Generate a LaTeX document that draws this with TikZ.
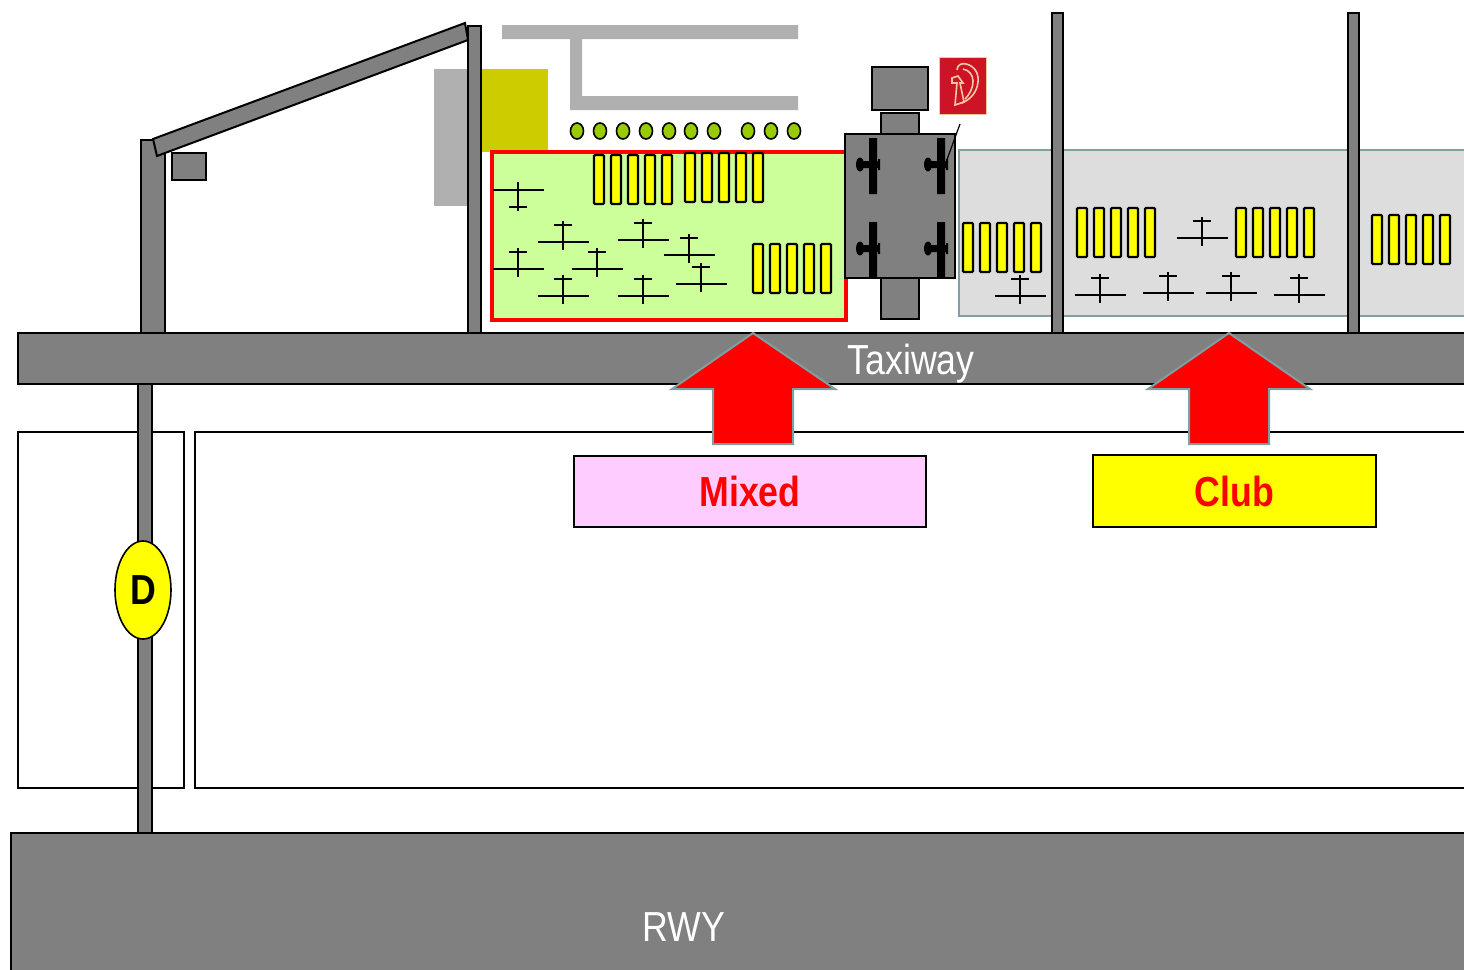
\documentclass[tikz,border=0pt]{standalone}
\usepackage{fontspec}
\setmainfont{Liberation Sans}
\usetikzlibrary{shapes.geometric}
\definecolor{apron}{HTML}{808080}
\definecolor{pale}{HTML}{B0B0B0}
\definecolor{olive}{HTML}{CCCC00}
\definecolor{grass}{HTML}{CCFF99}
\definecolor{stand}{HTML}{DDDDDD}
\definecolor{edge}{HTML}{7F9FA0}
\definecolor{lamp}{HTML}{99CC00}
\definecolor{fire}{HTML}{CC1426}
\definecolor{hose}{HTML}{F2C9A0}
\definecolor{pink}{HTML}{FFCCFF}
\definecolor{sun}{HTML}{FFFF00}
\definecolor{alarm}{HTML}{FF0000}
\tikzset{
  solidgray/.style={draw=black,fill=apron,line width=1pt},
  bigtext/.style={font=\fontsize{21}{24}\selectfont},
  labelbox/.style={draw=black,line width=.8pt,inner sep=0pt,minimum height=35.5pt,minimum width=176pt,
    bigtext,text=alarm},
  bigarrow/.style={draw=edge,fill=alarm,line width=1pt},
  lampdot/.style={draw=black,fill=lamp,line width=.8pt},
  plane/.pic={\draw[line width=1.2pt] (-25.5,0) -- (25.5,0) (-9,-17) -- (9,-17) (0,-21) -- (0,8);},
  barrow/.pic={\draw[draw=black,fill=sun,line width=1.2pt,rounded corners=.5pt]
    (0,0) rectangle +(10,49) (17,0) rectangle +(10,49) (34,0) rectangle +(10,49)
    (51,0) rectangle +(10,49) (68,0) rectangle +(10,49);},
  gateplane/.pic={\fill[black] (-4,-28) rectangle (4,28) (-12,-5) rectangle (7,2) (5,-7) rectangle (7,4);
    \fill[black] (-13,-1.5) ellipse [x radius=4,y radius=7];},
}
\begin{document}
\begin{tikzpicture}[x=.5pt,y=-.5pt]
\useasboundingbox (0,0) rectangle (1464,970);
\clip (0,0) rectangle (1464,970);

% runway and taxiway
\draw[solidgray] (11,833) rectangle (1480,985);
\draw[black,line width=.8pt] (18,432) rectangle (184,788) (195,432) rectangle (1480,788);
\draw[solidgray] (138,384) rectangle (152,833);
\draw[solidgray] (18,333) rectangle (1480,384);

% terminal on the left
\draw[solidgray] (141,140) rectangle (165,333);
\draw[solidgray] (153,139) -- (465,23) -- (468,40) -- (157,156) -- cycle;
\draw[solidgray] (172,153) rectangle (206,180);
\fill[pale] (434,69) rectangle (468,206);
\fill[olive] (481,69) rectangle (548,152);
\draw[solidgray] (468,26) rectangle (481,333);
\fill[pale] (502,25) rectangle (798,39) (570,39) rectangle (582,96) (570,96) rectangle (798,110);

\draw[lampdot] (577,131) ellipse [x radius=6.5,y radius=8] (600,131) ellipse [x radius=6.5,y radius=8]
  (623,131) ellipse [x radius=6.5,y radius=8] (646,131) ellipse [x radius=6.5,y radius=8]
  (669,131) ellipse [x radius=6.5,y radius=8] (691,131) ellipse [x radius=6.5,y radius=8]
  (714,131) ellipse [x radius=6.5,y radius=8] (748,131) ellipse [x radius=6.5,y radius=8]
  (771,131) ellipse [x radius=6.5,y radius=8] (794,131) ellipse [x radius=6.5,y radius=8];

% mixed area
\draw[draw=alarm,fill=grass,line width=2pt] (492,152) rectangle (846,320);
\pic at (594,155) {barrow};
\pic at (685,153) {barrow};
\pic at (753,244) {barrow};
\pic[yscale=-1] at (518,190) {plane};
\pic at (563,242) {plane};
\pic at (518,269) {plane};
\pic at (597,269) {plane};
\pic at (563,296) {plane};
\pic at (643,240) {plane};
\pic at (689,255) {plane};
\pic at (701,284) {plane};
\pic at (643,296) {plane};

% club area
\draw[draw=edge,fill=stand,line width=1pt] (959,150) rectangle (1480,316);
\draw[solidgray] (1052,13) rectangle (1063,333);
\draw[solidgray] (1348,13) rectangle (1359,333);
\pic at (963,223) {barrow};
\pic at (1077,208) {barrow};
\pic at (1236,208) {barrow};
\pic at (1372,215) {barrow};
\pic at (1020,296) {plane};
\pic at (1100,295) {plane};
\pic at (1168,293) {plane};
\pic at (1231,293) {plane};
\pic at (1299,295) {plane};
\pic at (1202,238) {plane};

% building between the areas
\draw[solidgray] (872,67) rectangle (928,110);
\draw[solidgray] (881,113) rectangle (919,134);
\draw[solidgray] (881,278) rectangle (919,319);
\draw[solidgray] (845,134) rectangle (955,278);
\pic at (873,166) {gateplane};
\pic at (941,166) {gateplane};
\pic at (873,250) {gateplane};
\pic at (941,250) {gateplane};
\draw[black,line width=.6pt] (960,124) -- (945,165);

% fire sign
\draw[draw=hose,fill=fire,line width=.5pt] (939,57) rectangle (986,114);
\draw[hose,line width=.8pt] (957,70) .. controls (957,64) and (963,63) .. (966,64)
  .. controls (975,66) and (979,74) .. (978,82) .. controls (977,92) and (971,99) .. (962,103)
  (963,69) .. controls (969,70) and (973,75) .. (973,81) .. controls (973,89) and (969,95) .. (965,99);
\draw[hose,line width=.8pt] (952,78) -- (958,76) -- (963,83) -- (960,83) -- (964,102) -- (955,105)
  -- (957,83) -- (952,83) -- cycle;

% arrows
\draw[bigarrow] (753,333) -- (835,389) -- (793,389) -- (793,444) -- (713,444) -- (713,389) -- (672,389) -- cycle;
\draw[bigarrow] (1229,333) -- (1310,389) -- (1269,389) -- (1269,444) -- (1189,444) -- (1189,389) -- (1148,389) -- cycle;

\node[labelbox,fill=pink] (mixed) at (750,491.5) {\scalebox{.85}[1]{\bfseries Mixed}};
\node[labelbox,fill=sun,minimum width=141.5pt,minimum height=36pt] (club) at (1234.5,491) {\scalebox{.85}[1]{\bfseries Club}};
\node[bigtext,text=white] (taxiway) at (911,364) {\scalebox{.85}[1]{Taxiway}};
\node[bigtext,text=white] (rwy) at (684,927) {\scalebox{.85}[1]{RWY}};
\node[shape=ellipse,draw=black,fill=sun,line width=.8pt,inner sep=0pt,minimum width=28pt,minimum height=49pt,bigtext] (holdd) at (143,590) {\scalebox{.85}[1]{\bfseries D}};

\end{tikzpicture}
\end{document}
